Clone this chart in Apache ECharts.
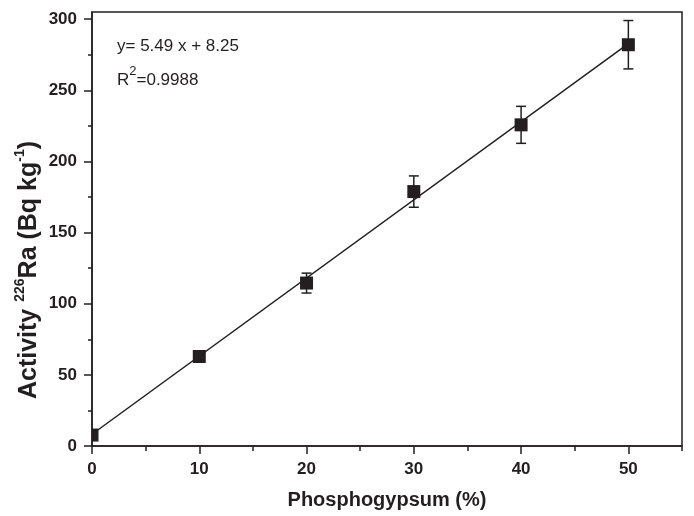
<!DOCTYPE html>
<html>
<head>
<meta charset="utf-8">
<script src="https://cdn.jsdelivr.net/npm/echarts@6/dist/echarts.min.js"></script>
<style>
  html, body { margin: 0; padding: 0; background: #fff; }
  #chart { width: 694px; height: 516px; }
</style>
</head>
<body>
<div id="chart"></div>
<script>
// measured points (phosphogypsum %, activity, error)
var phosphogypsum = [0, 10, 20, 30, 40, 50];
var activity = [7.7, 62.9, 114.5, 178.8, 225.7, 282];
var activityErr = [0, 2, 7, 11, 13, 17];

// fitted line y = 5.49 x + 8.25, drawn between its end points
var fitX = [0, 50];
var fitY = [8.25, 282.75];

var xMajorTicks = [0, 10, 20, 30, 40, 50];
var xMinorTicks = [5, 15, 25, 35, 45, 55];
var yMajorTicks = [0, 50, 100, 150, 200, 250, 300];
var yMinorTicks = [25, 75, 125, 175, 225, 275];

var ink = '#231f20';
var font = '"Liberation Sans", Arial, sans-serif';

var points = phosphogypsum.map(function (x, i) {
    return [x, activity[i], activityErr[i]];
});
var fitLine = fitX.map(function (x, i) {
    return [x, fitY[i]];
});

var chart = echarts.init(document.getElementById('chart'));

function minorAxis(max, ticks, len, pos) {
    return {
        type: 'value',
        min: 0,
        max: max,
        position: pos,
        axisLine: { show: false },
        axisTick: { show: true, customValues: ticks, length: len, lineStyle: { color: ink, width: 1.5 } },
        axisLabel: { show: false },
        splitLine: { show: false }
    };
}

var option = {
    animation: false,
    backgroundColor: '#fff',
    grid: {
        left: 92,
        right: 12,
        top: 12,
        bottom: 70,
        show: true,
        borderColor: ink,
        borderWidth: 1.5,
        backgroundColor: 'transparent'
    },
    xAxis: [
        {
            type: 'value',
            min: 0,
            max: 55,
            position: 'bottom',
            name: 'Phosphogypsum (%)',
            nameLocation: 'middle',
            nameGap: 44,
            nameTextStyle: { fontFamily: font, fontWeight: 'bold', fontSize: 20, color: ink },
            axisLine: { show: true, lineStyle: { color: ink, width: 1.5 } },
            axisTick: { show: true, customValues: xMajorTicks, length: 8, lineStyle: { color: ink, width: 1.5 } },
            axisLabel: { customValues: xMajorTicks, margin: 15, fontFamily: font, fontWeight: 'bold', fontSize: 17, color: ink },
            splitLine: { show: false }
        },
        minorAxis(55, xMinorTicks, 5, 'bottom')
    ],
    yAxis: [
        {
            type: 'value',
            min: 0,
            max: 305,
            position: 'left',
            axisLine: { show: true, lineStyle: { color: ink, width: 1.5 } },
            axisTick: { show: true, customValues: yMajorTicks, length: 8, lineStyle: { color: ink, width: 1.5 } },
            axisLabel: { customValues: yMajorTicks, margin: 15, fontFamily: font, fontWeight: 'bold', fontSize: 17, color: ink },
            splitLine: { show: false }
        },
        minorAxis(305, yMinorTicks, 4, 'left')
    ],
    graphic: [
        {
            type: 'text',
            x: 27,
            y: 270,
            rotation: Math.PI / 2,
            style: {
                text: '{n|Activity }{s|226}{n|Ra (Bq kg}{s|-1}{n|)}',
                fill: ink,
                align: 'center',
                verticalAlign: 'middle',
                rich: {
                    n: { fontFamily: font, fontWeight: 'bold', fontSize: 25, lineHeight: 29, fill: ink, verticalAlign: 'bottom' },
                    s: { fontFamily: font, fontWeight: 'bold', fontSize: 14, lineHeight: 14, fill: ink, verticalAlign: 'bottom', padding: [0, 0, 14, 0] }
                }
            }
        },
        {
            type: 'text',
            x: 117,
            y: 46,
            style: {
                text: 'y= 5.49 x + 8.25',
                fontFamily: font,
                fontSize: 17,
                fill: ink,
                align: 'left',
                verticalAlign: 'middle'
            }
        },
        {
            type: 'text',
            x: 117,
            y: 79,
            style: {
                text: '{n|R}{s|2}{n|=0.9988}',
                fill: ink,
                align: 'left',
                verticalAlign: 'middle',
                rich: {
                    n: { fontFamily: font, fontSize: 17, lineHeight: 20, fill: ink, verticalAlign: 'bottom' },
                    s: { fontFamily: font, fontSize: 13, lineHeight: 13, fill: ink, verticalAlign: 'bottom', padding: [0, 0, 11, 0] }
                }
            }
        }
    ],
    series: [
        {
            type: 'line',
            data: fitLine,
            symbol: 'none',
            lineStyle: { color: ink, width: 1.5 },
            z: 2
        },
        {
            type: 'custom',
            data: points,
            z: 3,
            renderItem: function (params, api) {
                var x = api.value(0), y = api.value(1), e = api.value(2);
                if (!e) {
                    return;
                }
                var top = api.coord([x, y + e]);
                var bot = api.coord([x, y - e]);
                var cap = 5;
                var st = { stroke: ink, lineWidth: 1.5 };
                return {
                    type: 'group',
                    children: [
                        { type: 'line', shape: { x1: top[0], y1: top[1], x2: bot[0], y2: bot[1] }, style: st },
                        { type: 'line', shape: { x1: top[0] - cap, y1: top[1], x2: top[0] + cap, y2: top[1] }, style: st },
                        { type: 'line', shape: { x1: bot[0] - cap, y1: bot[1], x2: bot[0] + cap, y2: bot[1] }, style: st }
                    ]
                };
            }
        },
        {
            type: 'custom',
            data: points,
            z: 4,
            renderItem: function (params, api) {
                var p = api.coord([api.value(0), api.value(1)]);
                var cs = params.coordSys;
                var rect = echarts.graphic.clipRectByRect(
                    { x: p[0] - 6.5, y: p[1] - 6.5, width: 13, height: 13 },
                    { x: cs.x, y: cs.y, width: cs.width, height: cs.height }
                );
                if (!rect) {
                    return;
                }
                return {
                    type: 'rect',
                    shape: rect,
                    style: { fill: ink }
                };
            }
        }
    ]
};

option && chart.setOption(option);
</script>
</body>
</html>
